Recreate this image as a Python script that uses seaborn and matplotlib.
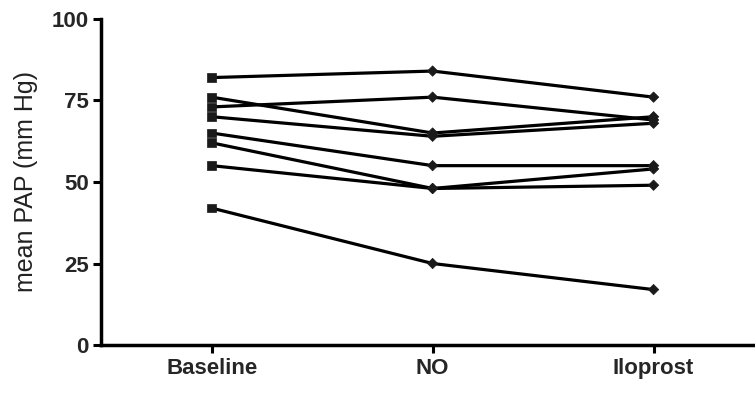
import matplotlib
matplotlib.use("Agg")
import matplotlib.pyplot as plt
import seaborn as sns
import pandas as pd

conditions = ["Baseline", "NO", "Iloprost"]
baseline = [82, 76, 73, 70, 65, 62, 55, 42]
no_values = [84, 65, 76, 64, 55, 48, 48, 25]
iloprost = [76, 70, 69, 68, 55, 54, 49, 17]
y_ticks = [0, 25, 50, 75, 100]
y_label = "mean PAP (mm Hg)"

rows = []
for i, (b, n, il) in enumerate(zip(baseline, no_values, iloprost)):
    for cond, v in zip(conditions, (b, n, il)):
        rows.append({"subject": i, "condition": cond, "pap": v})
df = pd.DataFrame(rows)

sns.set_style("ticks")
plt.rcParams["font.family"] = ["Liberation Sans", "DejaVu Sans"]

fig = plt.figure(figsize=(7.55, 3.93), dpi=100)
ax = fig.add_axes([0.134, 0.122, 0.866, 0.830])

sns.lineplot(data=df, x="condition", y="pap", units="subject", estimator=None,
             color="black", linewidth=2.3, ax=ax, legend=False, sort=False)
sns.scatterplot(data=df, x="condition", y="pap", style="condition",
                markers={"Baseline": "s", "NO": "D", "Iloprost": "D"},
                size="condition", sizes={"Baseline": 40, "NO": 28, "Iloprost": 28},
                color="#1a1a1a", edgecolor="#1a1a1a", linewidth=0.5,
                ax=ax, legend=False, zorder=3)

ax.set_ylim(0, 100)
ax.set_xlim(-0.5, 2.459)
ax.set_yticks(y_ticks)
ax.set_yticklabels([str(t) for t in y_ticks], fontsize=16, fontweight="bold")
ax.set_xticks(range(len(conditions)))
ax.set_xticklabels(conditions, fontsize=16, fontweight="bold")
ax.set_xlabel("")
ax.set_ylabel(y_label, fontsize=18, labelpad=10, color="#222222")

for s in ["top", "right"]:
    ax.spines[s].set_visible(False)
for s in ["left", "bottom"]:
    ax.spines[s].set_linewidth(2.5)
    ax.spines[s].set_color("black")
ax.tick_params(axis="both", length=6, width=2.2, color="black", pad=3)

fig.savefig("out.png", dpi=100)
